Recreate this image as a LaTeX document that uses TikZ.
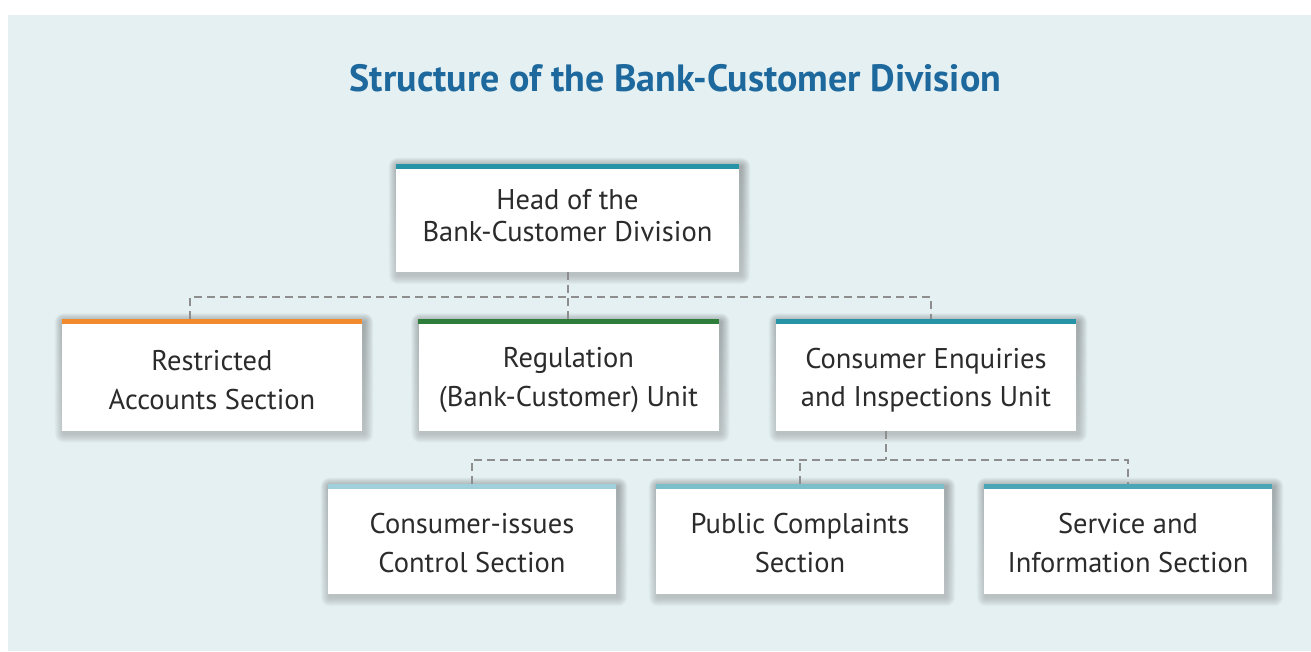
\documentclass[tikz,border=0pt]{standalone}
\usepackage{fontspec}
\setmainfont{PT Sans}

\definecolor{panel}{HTML}{E4F0F2}
\definecolor{titleblue}{HTML}{1D689C}
\definecolor{ink}{HTML}{2B2B2B}
\definecolor{linkgray}{HTML}{8E8E8E}
\definecolor{shade}{HTML}{2A4A55}
\definecolor{teal}{HTML}{2793A6}
\definecolor{orangebar}{HTML}{F28A2E}
\definecolor{greenbar}{HTML}{2E7D3A}
\definecolor{paleteal}{HTML}{9FD0DB}
\definecolor{midteal}{HTML}{7CBFCB}
\definecolor{deepteal}{HTML}{4AA5B6}

\pgfdeclarelayer{base}
\pgfdeclarelayer{shadow}
\pgfsetlayers{base,shadow,main}

\tikzset{
  unit/.style={fill=white, inner sep=0pt},
  toprow/.style={unit, minimum width=343pt, minimum height=108pt},
  midrow/.style={unit, minimum width=300pt, minimum height=111pt},
  lowrow/.style={unit, minimum width=288pt, minimum height=110pt},
  unittext/.style={inner sep=0pt, align=center, text=ink,
    font=\fontsize{28.5}{38.5}\selectfont},
  headtext/.style={unittext, font=\fontsize{28.5}{32}\selectfont},
  link/.style={draw=linkgray, line width=2pt, dash pattern=on 8pt off 5pt},
}

% coloured strip along the top edge of a unit box
\newcommand{\unitbar}[2]{%
  \fill[#2] (#1.north west) rectangle ([yshift=-5pt]#1.north east);}

\begin{document}
\begin{tikzpicture}[x=1pt, y=-1pt]
  \useasboundingbox (0,0) rectangle (1311,651);
  \begin{pgfonlayer}{base}
    \fill[panel] (8,15) rectangle (1311,651);
  \end{pgfonlayer}

  \node[text=titleblue, font=\fontsize{38}{44}\selectfont\bfseries]
    (title) at (675.5,78) {Structure of the Bank-Customer Division};

  % unit boxes
  \node[toprow] (head) at (567.5,218) {};
  \node[midrow] (rest) at (212,375)   {};
  \node[midrow] (reg)  at (568.5,375) {};
  \node[midrow] (cons) at (926,375)   {};
  \node[lowrow] (cis)  at (472,539)   {};
  \node[lowrow] (pub)  at (800,539)   {};
  \node[lowrow] (svc)  at (1128,539)  {};

  % soft drop shadows: stacked, growing translucent rectangles
  \begin{pgfonlayer}{shadow}
    \foreach \n in {head,rest,reg,cons,cis,pub,svc}
      \foreach \k in {1,...,9}
        \fill[shade, opacity=0.022, rounded corners=\k pt]
          ([xshift=2pt-\k pt, yshift=-3pt+\k pt]\n.north west)
          rectangle ([xshift=2pt+\k pt, yshift=-3pt-\k pt]\n.south east);
  \end{pgfonlayer}

  % box captions
  \node[headtext] (head-t) at ([yshift=2pt]head.center) {Head of the\\Bank-Customer Division};
  \node[unittext] (rest-t) at ([yshift=-5pt]rest.center) {Restricted\\Accounts Section};
  \node[unittext] (reg-t)  at ([yshift=-5pt]reg.center)  {Regulation\\(Bank-Customer) Unit};
  \node[unittext] (cons-t) at ([yshift=-5pt]cons.center) {Consumer Enquiries\\and Inspections Unit};
  \node[unittext] (cis-t)  at ([yshift=-4pt]cis.center)  {Consumer-issues\\Control Section};
  \node[unittext] (pub-t)  at ([yshift=-4pt]pub.center)  {Public Complaints\\Section};
  \node[unittext] (svc-t)  at ([yshift=-4pt]svc.center)  {Service and\\Information Section};

  % dashed connectors
  \coordinate (bus1) at (568,297);
  \coordinate (bus2) at (886,460);
  \draw[link] (head.south -| bus1) -- (bus1 |- reg.north);
  \draw[link] ([xshift=-22pt]rest.north) -- ++(0,-22) -| ([xshift=5pt]cons.north);
  \draw[link] (bus2 |- cons.south) -- (bus2);
  \draw[link] (cis.north) -- ++(0,-24) -| (svc.north);
  \draw[link] (pub.north) -- ++(0,-24);

  \unitbar{head}{teal}
  \unitbar{rest}{orangebar}
  \unitbar{reg}{greenbar}
  \unitbar{cons}{teal}
  \unitbar{cis}{paleteal}
  \unitbar{pub}{midteal}
  \unitbar{svc}{deepteal}
\end{tikzpicture}
\end{document}
